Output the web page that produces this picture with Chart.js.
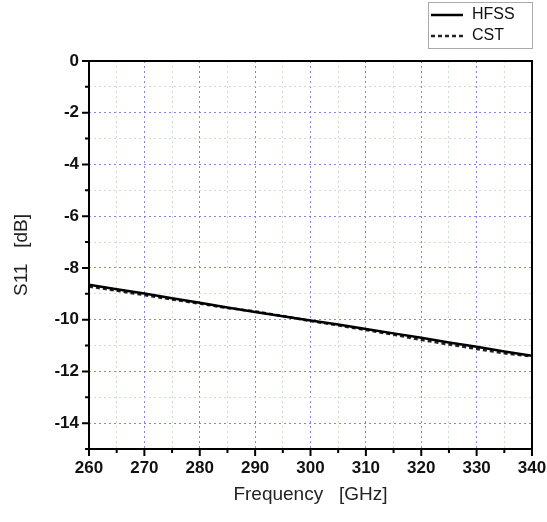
<!DOCTYPE html>
<html>
<head>
<meta charset="utf-8">
<script src="https://cdn.jsdelivr.net/npm/chart.js@4"></script>
<style>
  html, body { margin: 0; padding: 0; background: #fff; }
  #wrap { width: 547px; height: 522px; position: relative; }
</style>
</head>
<body>
<div id="wrap"><canvas id="c"></canvas></div>
<script>
// values
const freqs = [260, 265, 270, 275, 280, 285, 290, 295, 300, 305, 310, 315, 320, 325, 330, 335, 340];
const hfss  = [-8.65, -8.82, -8.99, -9.17, -9.35, -9.53, -9.70, -9.87, -10.03, -10.19, -10.36, -10.53, -10.70, -10.88, -11.05, -11.23, -11.40];
const cst   = [-8.72, -8.88, -9.05, -9.22, -9.38, -9.55, -9.68, -9.86, -10.05, -10.22, -10.40, -10.58, -10.78, -10.96, -11.13, -11.30, -11.42];
const xMajor = [260, 270, 280, 290, 300, 310, 320, 330, 340];
const yMajor = [0, -2, -4, -6, -8, -10, -12, -14];

const FONT = "'Liberation Sans', Arial, sans-serif";

function pts(ys) {
    return freqs.map((f, i) => ({ x: f, y: ys[i] }));
}

// frame, outward ticks and legend box
const framePlugin = {
    id: 'frame',
    afterDraw(chart) {
        const ctx = chart.ctx;
        const a = chart.chartArea;
        const xs = chart.scales.x, ys = chart.scales.y;
        ctx.save();
        ctx.strokeStyle = '#000';
        ctx.lineWidth = 2;
        ctx.strokeRect(a.left, a.top, a.right - a.left, a.bottom - a.top);

        ctx.beginPath();
        xs.ticks.forEach(t => {
            const px = xs.getPixelForValue(t.value);
            const len = xMajor.includes(t.value) ? 7 : 4;
            ctx.moveTo(px, a.bottom);
            ctx.lineTo(px, a.bottom + len);
        });
        ys.ticks.forEach(t => {
            const py = ys.getPixelForValue(t.value);
            const len = yMajor.includes(t.value) ? 7 : 4;
            ctx.moveTo(a.left, py);
            ctx.lineTo(a.left - len, py);
        });
        ctx.stroke();

        // legend
        const bx = a.right - 104, by = 2, bw = 104, bh = 46;
        ctx.fillStyle = '#fff';
        ctx.fillRect(bx, by, bw, bh);
        ctx.strokeStyle = '#aaa';
        ctx.lineWidth = 1;
        ctx.strokeRect(bx + 0.5, by + 0.5, bw, bh);
        ctx.font = '16px ' + FONT;
        ctx.textBaseline = 'middle';
        chart.data.datasets.forEach((ds, i) => {
            const yy = by + 13 + i * 21;
            ctx.strokeStyle = ds.borderColor;
            ctx.lineWidth = 2.5;
            ctx.setLineDash(ds.borderDash || []);
            ctx.beginPath();
            ctx.moveTo(bx + 3, yy);
            ctx.lineTo(bx + 35, yy);
            ctx.stroke();
            ctx.setLineDash([]);
            ctx.fillStyle = '#111';
            ctx.fillText(ds.label, bx + 44, yy);
        });
        ctx.restore();
    }
};

function isMajor(c) {
    const v = c.tick ? c.tick.value : null;
    if (c.scale.id === 'x') return xMajor.includes(v);
    return yMajor.includes(v);
}
const gridColor = c => isMajor(c) ? 'rgba(120,120,220,0.9)' : 'rgba(190,215,190,0.8)';

new Chart(document.getElementById('c'), {
    type: 'line',
    data: {
        datasets: [
            { label: 'HFSS', data: pts(hfss), borderColor: '#000', borderWidth: 2.5, pointRadius: 0, tension: 0 },
            { label: 'CST', data: pts(cst), borderColor: '#222', borderWidth: 2.5, borderDash: [4, 3], pointRadius: 0, tension: 0 }
        ]
    },
    options: {
        responsive: true,
        maintainAspectRatio: false,
        animation: false,
        layout: { padding: { top: 61, right: 15, left: 0, bottom: 0 } },
        plugins: { legend: { display: false }, tooltip: { enabled: false } },
        scales: {
            x: {
                type: 'linear',
                min: 260, max: 340,
                afterFit(s) { s.height = 73; s.paddingRight = 0; s.paddingLeft = 0; },
                ticks: {
                    stepSize: 5, autoSkip: false, maxRotation: 0, padding: 9,
                    color: '#111',
                    font: { family: FONT, size: 17, weight: 'bold' },
                    callback: v => (v % 10 === 0 ? String(v) : '')
                },
                grid: { color: gridColor, lineWidth: 1, drawTicks: false },
                border: { display: false, dash: [2, 3] },
                title: {
                    display: true, text: 'Frequency   [GHz]', color: '#222',
                    font: { family: FONT, size: 19 }, padding: { top: 4, bottom: 16 }
                }
            },
            y: {
                type: 'linear',
                min: -15, max: 0,
                afterFit(s) { s.width = 89; s.paddingTop = 0; s.paddingBottom = 0; },
                ticks: {
                    stepSize: 1, autoSkip: false, padding: 10,
                    color: '#111',
                    font: { family: FONT, size: 17, weight: 'bold' },
                    callback: v => (v % 2 === 0 ? String(v) : '')
                },
                grid: { color: gridColor, lineWidth: 1, drawTicks: false },
                border: { display: false, dash: [2, 3] },
                title: {
                    display: true, text: 'S11   [dB]', color: '#222',
                    font: { family: FONT, size: 19 }, padding: { top: 10, bottom: 6 }
                }
            }
        }
    },
    plugins: [framePlugin]
});
</script>
</body>
</html>
